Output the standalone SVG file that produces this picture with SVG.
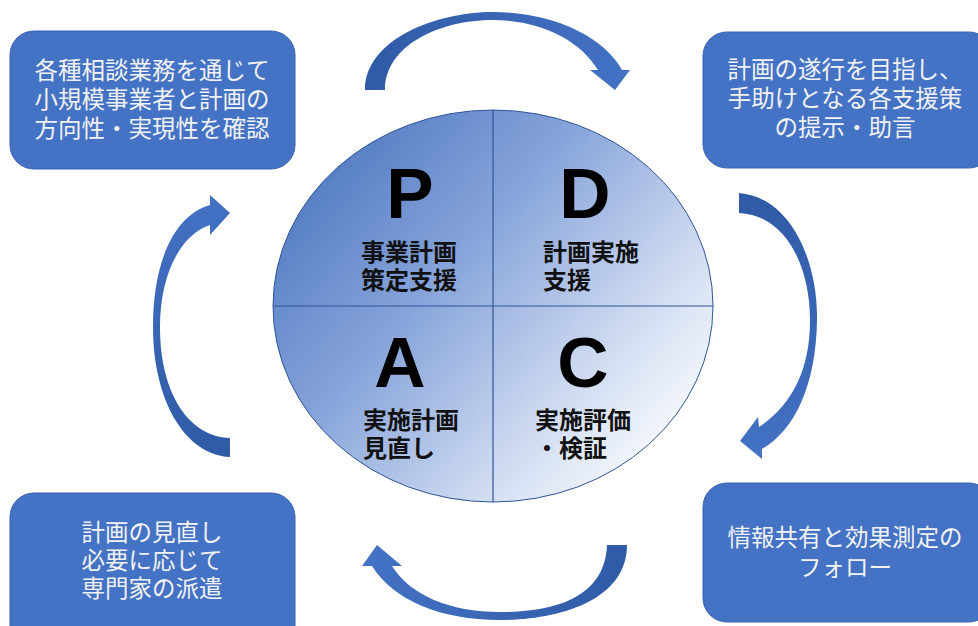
<svg xmlns="http://www.w3.org/2000/svg" width="978" height="626" viewBox="0 0 978 626">
<defs>
<linearGradient id="gCircle" x1="273" y1="110" x2="713" y2="502" gradientUnits="userSpaceOnUse">
<stop offset="0" stop-color="#3f6cba"/>
<stop offset="0.4" stop-color="#87a4da"/>
<stop offset="0.75" stop-color="#dce5f5"/>
<stop offset="0.92" stop-color="#ffffff"/>
</linearGradient>
<linearGradient id="gTop" x1="0" y1="0" x2="1" y2="0">
<stop offset="0" stop-color="#2f5aa6"/><stop offset="1" stop-color="#4472c4"/>
</linearGradient>
<linearGradient id="gRight" x1="0" y1="0" x2="0" y2="1">
<stop offset="0" stop-color="#2f5aa6"/><stop offset="1" stop-color="#4472c4"/>
</linearGradient>
<linearGradient id="gBottom" x1="1" y1="0" x2="0" y2="0">
<stop offset="0" stop-color="#2f5aa6"/><stop offset="1" stop-color="#4472c4"/>
</linearGradient>
<linearGradient id="gLeft" x1="0" y1="1" x2="0" y2="0">
<stop offset="0" stop-color="#2f5aa6"/><stop offset="1" stop-color="#4472c4"/>
</linearGradient>
</defs>
<style>
.box{fill:#4472c4;stroke:#3a63ad;stroke-width:1}
.bt{font-family:"Noto Sans CJK JP","Noto Sans CJK SC",sans-serif;font-size:23.5px;fill:#f2f2f2;text-anchor:middle}
.big{font-family:"Liberation Sans",Arial,sans-serif;font-weight:bold;font-size:71px;fill:#000;text-anchor:middle}
.lb{font-family:"Noto Sans CJK JP","Noto Sans CJK SC",sans-serif;font-weight:bold;font-size:24px;fill:#111}
.div{stroke:#2f5597;stroke-width:1.2}
</style>
<rect width="978" height="626" fill="#ffffff"/>

<g id="pdca-circle">
<ellipse cx="493" cy="306" rx="220" ry="196" fill="url(#gCircle)" stroke="#2f5597" stroke-width="1"/>
<line class="div" x1="493" y1="110" x2="493" y2="502"/>
<line class="div" x1="273" y1="306" x2="713" y2="306"/>
</g>

<g id="node-p">
<text class="big" x="410" y="218">P</text>
<text class="lb" x="361" y="261">事業計画</text>
<text class="lb" x="361" y="289">策定支援</text>
</g>
<g id="node-d">
<text class="big" x="585" y="218">D</text>
<text class="lb" x="543" y="261">計画実施</text>
<text class="lb" x="543" y="289">支援</text>
</g>
<g id="node-a">
<text class="big" x="400" y="387">A</text>
<text class="lb" x="363" y="429">実施計画</text>
<text class="lb" x="363" y="457">見直し</text>
</g>
<g id="node-c">
<text class="big" x="583" y="387">C</text>
<text class="lb" x="535" y="429">実施評価</text>
<text class="lb" x="535" y="457">・検証</text>
</g>

<g id="box-top-left">
<rect class="box" x="10" y="31" width="285" height="138" rx="24"/>
<text class="bt" x="152" y="79">各種相談業務を通じて</text>
<text class="bt" x="152" y="108">小規模事業者と計画の</text>
<text class="bt" x="152" y="137">方向性・実現性を確認</text>
</g>
<g id="box-top-right">
<rect class="box" x="703" y="32" width="290" height="136" rx="24"/>
<text class="bt" x="845" y="78">計画の遂行を目指し、</text>
<text class="bt" x="845" y="107">手助けとなる各支援策</text>
<text class="bt" x="845" y="136">の提示・助言</text>
</g>
<g id="box-bottom-left">
<rect class="box" x="10" y="493" width="285" height="160" rx="24"/>
<text class="bt" x="152" y="541">計画の見直し</text>
<text class="bt" x="152" y="569">必要に応じて</text>
<text class="bt" x="152" y="597">専門家の派遣</text>
</g>
<g id="box-bottom-right">
<rect class="box" x="703" y="483" width="290" height="139" rx="24"/>
<text class="bt" x="845" y="546">情報共有と効果測定の</text>
<text class="bt" x="845" y="576">フォロー</text>
</g>

<g id="connectors">
<path fill="url(#gTop)" d="M 365 90 C 365 40 435 12 493 12 C 550 12 603 35 622 70 L 630 70 L 615 90 L 590 70 L 598 70 C 580 40 540 20 493 20 C 440 20 385 45 385 90 Z"/>
<path fill="url(#gRight)" d="M 739 193 C 790 197 818 260 817 320 C 816 385 795 430 762 449 L 762 459 L 740 441 L 758 417 L 759 427 C 792 405 810 370 810 320 C 810 265 785 215 739 213 Z"/>
<path fill="url(#gBottom)" d="M 627 545 C 627 600 560 620 500 620 C 440 620 393 600 372 566 L 362 566 L 377 545 L 402 566 L 392 566 C 410 595 450 612 500 612 C 560 612 605 595 607 545 Z"/>
<path fill="url(#gLeft)" d="M 230 457 C 185 455 153 400 153 327 C 153 260 175 215 210 205 L 210 195 L 230 213 L 210 235 L 210 225 C 180 235 160 275 160 327 C 160 395 190 437 230 438 Z"/>
</g>
</svg>
